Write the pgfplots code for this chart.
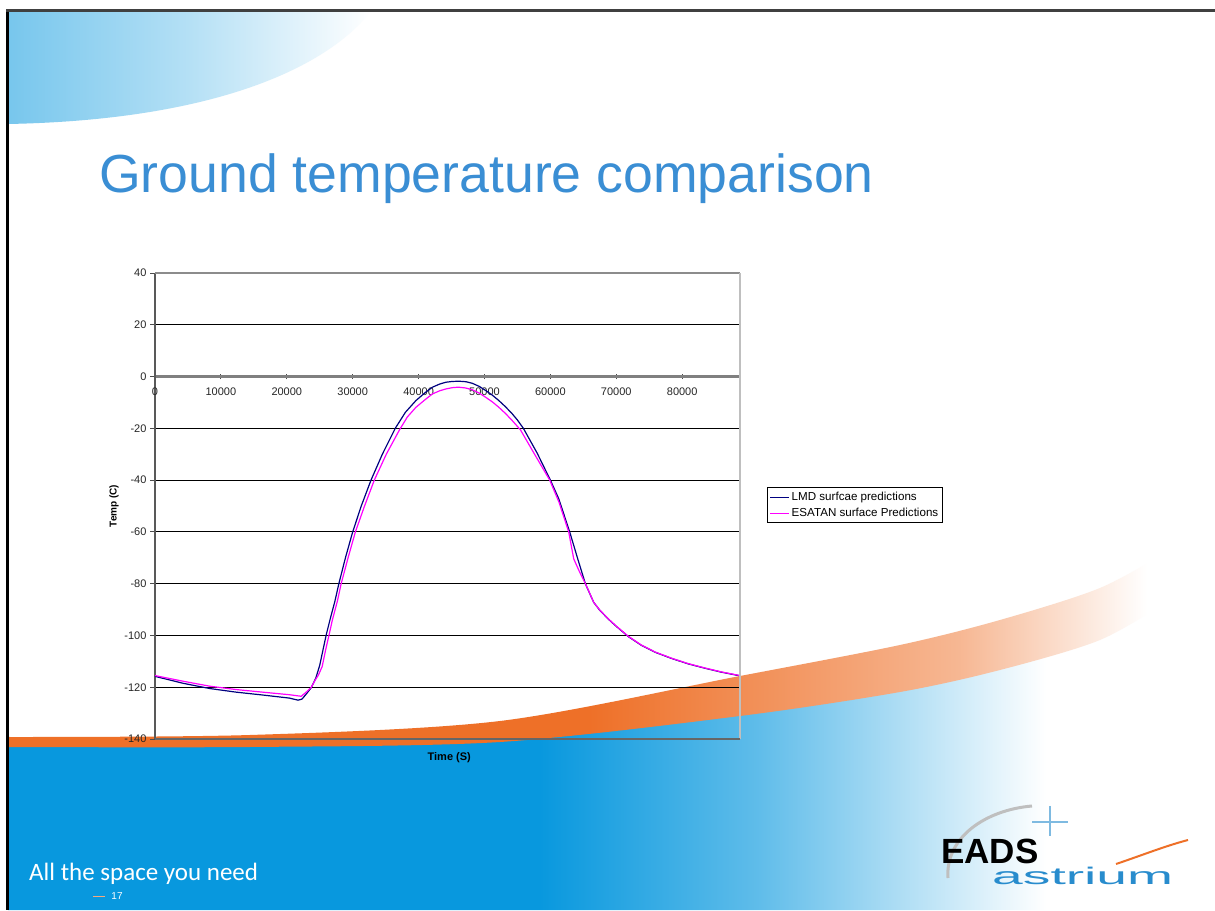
\documentclass[border=0pt]{standalone}
\usepackage{fontspec}
\setmainfont{Liberation Sans}
\newfontfamily\footfont{Carlito}
\usepackage{graphicx}
\usepackage{pgfplots}
\pgfplotsset{compat=1.18}

\definecolor{titleblue}{RGB}{58,142,212}
\definecolor{slideblue}{RGB}{8,152,222}
\definecolor{swooshorange}{RGB}{238,112,40}
\definecolor{lmd}{RGB}{0,0,128}
\definecolor{esatan}{RGB}{255,0,255}
\definecolor{astriumblue}{RGB}{40,140,205}

\pgfdeclarehorizontalshading{bluefade}{100bp}{color(0bp)=(slideblue); color(25bp)=(slideblue); color(47bp)=(slideblue); color(56bp)=(slideblue!65!white); color(68bp)=(white); color(100bp)=(white)}
\pgfdeclarehorizontalshading{orangefade}{100bp}{color(0bp)=(swooshorange); color(25bp)=(swooshorange); color(50bp)=(swooshorange); color(66bp)=(swooshorange!50!white); color(74bp)=(white); color(100bp)=(white)}
\pgfdeclarehorizontalshading{topfade}{100bp}{color(0bp)=(slideblue!55!white); color(25bp)=(slideblue!55!white); color(50bp)=(slideblue!30!white); color(75bp)=(white); color(100bp)=(white)}

\pgfplotstableread{
x y
0 -115.8
4300 -118.5
8300 -120.5
12300 -121.9
16300 -123.0
20400 -124.2
21700 -125.0
22300 -124.6
23000 -122.5
23700 -120.2
24400 -116.5
25000 -111.5
25500 -105.5
26000 -99.6
26600 -93.5
27300 -86.8
27900 -80.0
28900 -70.0
30000 -60.0
31300 -50.0
32780 -40.0
34500 -30.0
36460 -20.0
38000 -13.8
39590 -9.3
41000 -6.2
42110 -4.1
43200 -2.9
44130 -2.2
45100 -1.9
46140 -1.8
47200 -2.0
48150 -2.6
49200 -3.8
50180 -5.4
51200 -7.2
52190 -9.3
53200 -11.7
54210 -14.4
55000 -16.8
55900 -20.0
58000 -29.6
60000 -40.0
61270 -47.2
62930 -60.0
64150 -70.4
65310 -80.0
65810 -82.9
66570 -87.2
67500 -90.3
68840 -93.8
70000 -96.5
71860 -100.5
73800 -103.8
75900 -106.5
78400 -108.9
80940 -111.0
83500 -112.7
85980 -114.2
88775 -115.6
}\lmdtable

\pgfplotstableread{
x y
0 -115.5
4300 -117.7
8300 -119.6
12300 -120.9
16300 -121.9
20400 -122.9
22190 -123.5
22900 -122.0
23700 -120.1
24300 -117.3
24800 -115.3
25370 -112.0
25900 -105.5
26450 -99.4
26900 -94.2
27700 -86.5
28250 -80.0
29300 -70.0
30410 -60.0
31800 -50.0
33280 -40.0
35100 -30.0
37100 -20.6
38300 -15.6
39590 -11.9
41000 -8.9
42110 -6.7
43200 -5.5
44130 -4.8
45100 -4.3
46040 -4.1
47100 -4.4
48150 -5.1
49200 -6.4
50180 -8.0
51200 -9.8
52190 -11.9
53200 -14.3
54210 -17.0
55460 -20.6
57600 -30.0
59900 -40.0
61300 -48.5
62780 -60.0
63540 -70.4
64400 -75.3
65310 -80.0
65810 -82.8
66570 -87.2
67500 -90.2
68840 -93.7
70000 -96.4
71860 -100.4
73800 -103.7
75900 -106.4
78400 -108.8
80940 -110.9
83500 -112.6
85980 -114.1
88775 -115.5
}\esatantable

\begin{document}
\begin{tikzpicture}
\begin{scope}[x=1pt,y=1pt]
\useasboundingbox (0,0) rectangle (1215,910);
\fill[white] (0,0) rectangle (1215,910);
% top-left swoosh
\shade[shading=topfade] (8,900) -- (372,900) .. controls (330,845) and (220,790) .. (8,786) -- cycle;
% bottom blue region
\shade[shading=bluefade] plot[smooth] coordinates {(8,167) (250,167) (500,172) (740,198) (900,222) (1000,244) (1100,274) (1215,334)} -- (1215,0) -- (8,0) -- cycle;
% orange swoosh
\shade[shading=orangefade] plot[smooth] coordinates {(8,173) (250,175) (500,189) (740,234) (900,265) (1000,290) (1100,322) (1170,360)} -- plot[smooth] coordinates {(1170,310) (1100,270) (1000,240) (900,218) (740,194) (500,168) (250,163) (8,163)} -- cycle;
% borders
\fill[black] (6,0) rectangle (9,900);
\fill[black!75] (6,898) rectangle (1215,900.5);
% title
\node[anchor=base west, inner sep=0pt, text=titleblue, font=\fontsize{53.6}{60}\selectfont] at (99,717) {Ground temperature comparison};
% footer
\node[anchor=base west, inner sep=0pt, text=white, font=\footfont\fontsize{25}{25}\selectfont] at (29,29) {All the space you need};
\draw[swooshorange!60!white, line width=0.6pt] (93,14) -- (105,14);
\node[inner sep=0pt, text=white, font=\fontsize{10}{10}\selectfont] at (117,14) {17};
% logo
\draw[black!25, line width=3pt] (1032,104) .. controls (985,100) and (945,72) .. (948,32);
\draw[astriumblue!60!white, line width=1.2pt] (1050,104) -- (1050,74);
\draw[astriumblue!60!white, line width=1.2pt] (1032,88) -- (1068,88);
\node[anchor=base west, inner sep=0pt, font=\bfseries\fontsize{35}{35}\selectfont] at (941,46) {EADS};
\node[anchor=base west, inner sep=0pt, text=astriumblue] at (992,26) {\scalebox{2.3}[1]{\fontsize{24}{24}\selectfont astrium}};
\draw[swooshorange, line width=2pt] (1116,46) .. controls (1140,54) and (1165,64) .. (1188,70);
\end{scope}

\begin{axis}[
  at={(155pt,171pt)}, anchor=south west,
  scale only axis, width=585pt, height=466pt,
  xmin=0, xmax=88775, ymin=-140, ymax=40,
  clip=false,
  scaled x ticks=false, scaled y ticks=false,
  axis x line=middle, axis y line=left,
  hide obscured x ticks=false, hide obscured y ticks=false,
  x axis line style={-, draw=black!50, line width=2.2pt},
  y axis line style={-, draw=black!65, line width=1.8pt},
  xtick={0,10000,20000,30000,40000,50000,60000,70000,80000},
  xticklabels={0,10000,20000,30000,40000,50000,60000,70000,80000},
  ytick={-140,-120,-100,-80,-60,-40,-20,0,20,40},
  yticklabels={-140,-120,-100,-80,-60,-40,-20,0,20,40},
  xtick align=center, ytick align=outside,
  major tick length=5pt,
  tick style={black!70, line width=0.8pt},
  ymajorgrids, grid style={black, line width=0.9pt},
  ticklabel style={font=\fontsize{11}{13}\selectfont, text=black!85},
  xticklabel style={yshift=-5pt},
  every axis y label/.style={at={(axis description cs:-0.07,0.5)}, rotate=90, anchor=center, font=\bfseries\fontsize{10}{12}\selectfont},
  every axis x label/.style={at={(axis description cs:0.503,-0.041)}, anchor=center, font=\bfseries\fontsize{11}{13}\selectfont},
  ylabel={Temp (C)},
  xlabel={Time (S)},
  legend style={at={(axis description cs:1.046,0.502)}, anchor=west, draw=black, line width=0.6pt, fill=white, font=\fontsize{11.6}{13}\selectfont, inner sep=2.5pt, row sep=2pt, cells={anchor=west}},
  legend image code/.code={\draw[#1, line width=1pt] (0pt,0pt) -- (19pt,0pt);},
]
\addplot[lmd, line width=1.2pt] table[x=x,y=y] {\lmdtable};
\addplot[esatan, line width=1.2pt] table[x=x,y=y] {\esatantable};
\legend{LMD surfcae predictions, ESATAN surface Predictions}
\draw[black!45, line width=1.8pt] (rel axis cs:0,1) -- (rel axis cs:1,1);
\draw[black!25, line width=1.8pt] (rel axis cs:1,0) -- (rel axis cs:1,1);
\draw[black!60, line width=1.2pt] (rel axis cs:0,0) -- (rel axis cs:1,0);
\end{axis}
\end{tikzpicture}
\end{document}
